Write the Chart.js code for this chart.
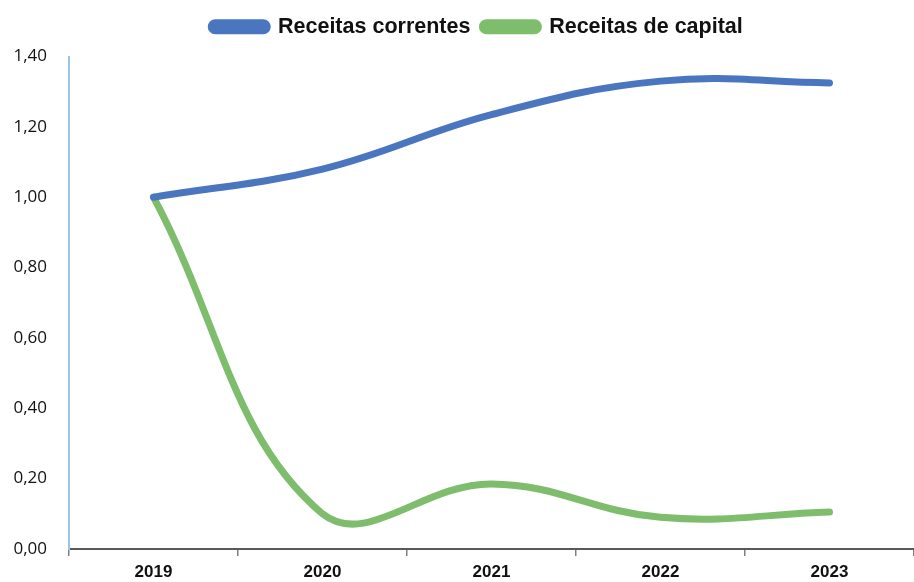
<!DOCTYPE html>
<html>
<head>
<meta charset="utf-8">
<script src="https://cdn.jsdelivr.net/npm/chart.js@4"></script>
<style>
html,body{margin:0;padding:0;background:#fff;}
#wrap{width:914px;height:582px;}
</style>
</head>
<body>
<div id="wrap"><canvas id="c" width="914" height="582"></canvas></div>
<script>
const categories = ["2019", "2020", "2021", "2022", "2023"];
const correntes = [1.00, 1.08, 1.235, 1.33, 1.325];
const capital = [1.00, 0.10, 0.185, 0.09, 0.105];
const yTicks = [0, 0.2, 0.4, 0.6, 0.8, 1.0, 1.2, 1.4];

const boldFont = "'Liberation Sans', sans-serif";
const blue = '#4A76C0';
const green = '#7DBD6C';

const legendTweak = {
  id: 'legendTweak',
  beforeInit(chart) {
    const lg = chart.legend;
    const origFit = lg.fit;
    lg.fit = function () { origFit.call(this); this.height += 9; };
    const origDraw = lg.draw;
    lg.draw = function () {
      const ctx = this.ctx; ctx.save(); ctx.translate(20, 0); origDraw.call(this); ctx.restore();
    };
  }
};

new Chart(document.getElementById('c'), {
  type: 'line',
  data: {
    labels: categories,
    datasets: [
      { label: 'Receitas correntes', data: correntes, borderColor: blue, backgroundColor: blue,
        borderWidth: 7, pointRadius: 0, tension: 0.4, borderCapStyle: 'round', borderJoinStyle: 'round' },
      { label: 'Receitas de capital', data: capital, borderColor: green, backgroundColor: green,
        borderWidth: 7, pointRadius: 0, tension: 0.4, borderCapStyle: 'round', borderJoinStyle: 'round' }
    ]
  },
  plugins: [legendTweak],
  options: {
    responsive: false,
    animation: false,
    layout: { padding: { left: 0, right: 0, top: 4, bottom: 0 } },
    plugins: {
      tooltip: { enabled: false },
      legend: {
        position: 'top',
        labels: {
          boxWidth: 56, boxHeight: 8, useBorderRadius: true, borderRadius: 4,
          padding: 12,
          color: '#111',
          font: { family: boldFont, size: 21.5, weight: 'bold' }
        }
      }
    },
    scales: {
      x: {
        offset: true,
        afterFit: (s) => { s.height = 33; },
        grid: { display: true, offset: true, drawOnChartArea: false, drawTicks: true, tickLength: 7, color: '#808080', lineWidth: 1.5 },
        border: { display: true, color: '#595959', width: 2 },
        ticks: { color: '#111', padding: 6, font: { family: boldFont, size: 17, weight: 'bold' } }
      },
      y: {
        min: 0, max: 1.4,
        afterBuildTicks: (s) => { s.ticks = yTicks.map(v => ({ value: v })); },
        afterFit: (s) => { s.width = 69; },
        grid: { display: false, drawTicks: false, tickLength: 0 },
        border: { display: true, color: '#9DC3E6', width: 2 },
        ticks: {
          color: '#111', padding: 22,
          font: { family: "'Open Sans', 'Liberation Sans', sans-serif", size: 17 },
          callback: (v) => Number(v).toFixed(2).replace('.', ',')
        }
      }
    }
  }
});
</script>
</body>
</html>
